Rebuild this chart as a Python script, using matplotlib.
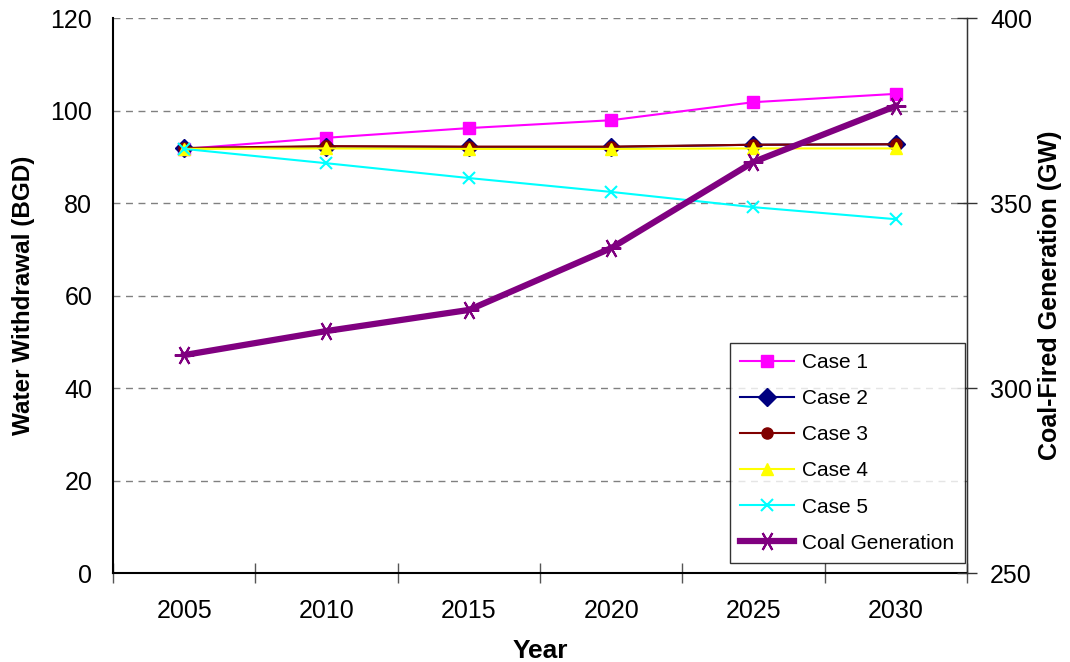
import numpy as np
import matplotlib.pyplot as plt

plt.rcParams['font.family'] = ['Liberation Sans', 'DejaVu Sans']

# Datos
years = ['2005', '2010', '2015', '2020', '2025', '2030']
case1 = [91.7, 94.1, 96.2, 97.9, 101.8, 103.6]
case2 = [91.8, 92.2, 92.1, 92.1, 92.6, 92.7]
case3 = [91.9, 92.3, 92.2, 92.2, 92.6, 92.7]
case4 = [91.7, 91.8, 91.7, 91.7, 91.8, 91.8]
case5 = [91.7, 88.6, 85.4, 82.4, 79.1, 76.5]
coal_gen = [308.9, 315.4, 321.1, 337.8, 361.1, 376.2]

x = np.arange(len(years))

fig = plt.figure(figsize=(10.7, 6.62), dpi=100)
ax = fig.add_axes([0.1056, 0.1344, 0.7981, 0.8384])
ax2 = ax.twinx()

# Series de extracción de agua (eje izquierdo)
l1, = ax.plot(x, case1, color='#FF00FF', marker='s', markersize=8, linewidth=1.5, label='Case 1')
l2, = ax.plot(x, case2, color='#000080', marker='D', markersize=9, linewidth=1.5, label='Case 2')
l3, = ax.plot(x, case3, color='#800000', marker='o', markersize=8, linewidth=1.5, label='Case 3')
l4, = ax.plot(x, case4, color='#FFFF00', marker='^', markersize=9, linewidth=1.5, label='Case 4')
l5, = ax.plot(x, case5, color='#00FFFF', marker='x', markersize=9, markeredgewidth=1.5,
              linewidth=1.5, label='Case 5')

# Generación de carbón (eje derecho)
l6, = ax2.plot(x, coal_gen, color='#800080', marker=(6, 2, 90), markersize=14,
               markeredgewidth=1.5, linewidth=4.5, label='Coal Generation')

ax.set_xlim(-0.5, len(years) - 0.5)
ax.set_ylim(0, 120)
ax2.set_ylim(250, 400)
ax.set_yticks(np.arange(0, 121, 20))
ax2.set_yticks(np.arange(250, 401, 50))

# Etiquetas de categoría centradas, marcas en los bordes
ax.set_xticks(np.arange(-0.5, len(years), 1.0))
ax.set_xticklabels([])
ax.set_xticks(x, minor=True)
ax.set_xticklabels(years, minor=True)
ax.tick_params(axis='x', which='minor', length=0, labelsize=18, pad=19)
ax.tick_params(axis='x', which='major', length=15, width=1, color='#555555', direction='inout')
ax.tick_params(axis='y', labelsize=18, length=0, pad=15)
ax2.tick_params(axis='y', labelsize=18, length=15, width=1, color='#333333',
                direction='inout', pad=9)

ax.yaxis.grid(True, linestyle=(0, (5, 4)), color='#808080', linewidth=1)
ax.set_axisbelow(True)

for a in (ax, ax2):
    a.spines['top'].set_visible(False)
ax.spines['left'].set_linewidth(1.5)
ax.spines['bottom'].set_linewidth(1.5)
ax2.spines['left'].set_visible(False)
ax2.spines['bottom'].set_visible(False)
ax2.spines['right'].set_color('#333333')
ax2.spines['right'].set_linewidth(1)

ax.set_xlabel('Year', fontsize=19, fontweight='bold')
ax.xaxis.set_label_coords(0.5, -0.118)
ax.set_ylabel('Water Withdrawal (BGD)', fontsize=17.5, fontweight='bold')
ax.yaxis.set_label_coords(-0.091, 0.5)
ax2.set_ylabel('Coal-Fired Generation (GW)', fontsize=18, fontweight='bold')
ax2.yaxis.set_label_coords(1.083, 0.5)

leg = ax2.legend(handles=[l1, l2, l3, l4, l5, l6], loc='lower right',
                 bbox_to_anchor=(0.9977, 0.018), fontsize=15, frameon=True, fancybox=False,
                 handlelength=2.6, labelspacing=0.82, borderpad=0.5, handletextpad=0.4,
                 borderaxespad=0.0)
leg.get_frame().set_edgecolor('black')
leg.get_frame().set_linewidth(1)

fig.savefig('out.png', dpi=100)
